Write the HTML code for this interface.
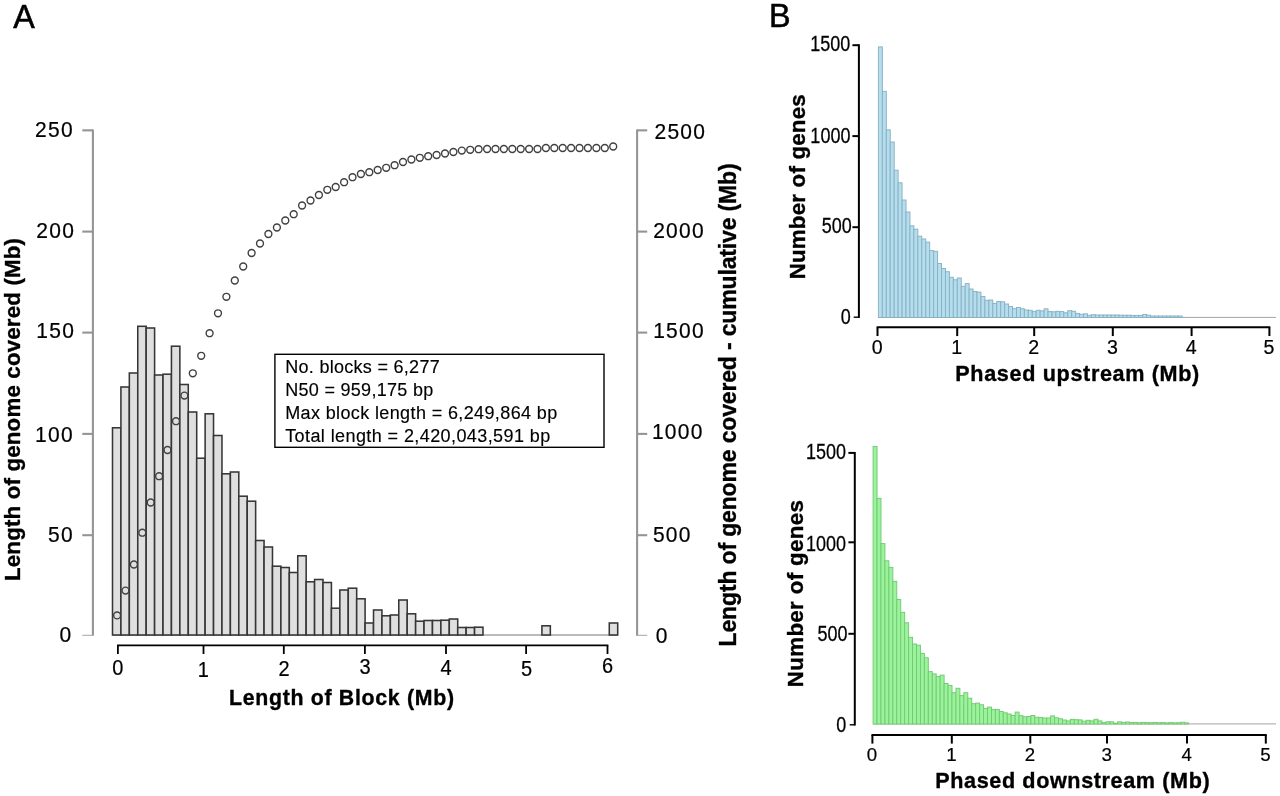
<!DOCTYPE html>
<html lang="en"><head><meta charset="utf-8"><title>Figure</title>
<style>html,body{margin:0;padding:0;background:#fff;overflow:hidden}svg{display:block;will-change:transform;filter:blur(.3px);font-family:'Liberation Sans', sans-serif;fill:#000}</style></head><body>
<svg width="1280" height="796" viewBox="0 0 1280 796">
<rect width="1280" height="796" fill="#fff"/>
<!-- Panel A -->
<text x="13.2" y="28.4" font-size="32.3" stroke="#000" stroke-width="0.55">A</text>
<g stroke="#959595" stroke-width="2.1" fill="none">
<path d="M92.9 129.5V635.8"/>
<path d="M82.3 130.35H92.9"/>
<path d="M82.3 231.6H92.9"/>
<path d="M82.3 332.6H92.9"/>
<path d="M82.3 433.9H92.9"/>
<path d="M82.3 535.2H92.9"/>
<path d="M82.3 635.3H92.9" stroke-width="1" stroke="#a5a5a5"/>
<path d="M637.1 129.5V635.8"/>
<path d="M637.1 130.35H647.2"/>
<path d="M637.1 231.6H647.2"/>
<path d="M637.1 332.6H647.2"/>
<path d="M637.1 433.9H647.2"/>
<path d="M637.1 535.2H647.2"/>
<path d="M637.1 635.3H647.2" stroke-width="1" stroke="#a5a5a5"/>
</g>
<text transform="translate(73.9 137.0) scale(1 1.09)" font-size="21" text-anchor="end" letter-spacing="1.3" stroke="#000" stroke-width="0.2">250</text>
<text transform="translate(75.2 238.2) scale(1 1.09)" font-size="21" text-anchor="end" letter-spacing="1.3" stroke="#000" stroke-width="0.2">200</text>
<text transform="translate(75.2 337.8) scale(1 1.09)" font-size="21" text-anchor="end" letter-spacing="1.3" stroke="#000" stroke-width="0.2">150</text>
<text transform="translate(73.9 442.0) scale(1 1.09)" font-size="21" text-anchor="end" letter-spacing="1.3" stroke="#000" stroke-width="0.2">100</text>
<text transform="translate(73.9 541.7) scale(1 1.09)" font-size="21" text-anchor="end" letter-spacing="1.3" stroke="#000" stroke-width="0.2">50</text>
<text transform="translate(72.5 641.7) scale(1 1.09)" font-size="21" text-anchor="end" letter-spacing="1.3" stroke="#000" stroke-width="0.2">0</text>
<text transform="translate(654.5 138.5) scale(1 1.09)" font-size="21" letter-spacing="1.25" stroke="#000" stroke-width="0.2">2500</text>
<text transform="translate(653.2 238.2) scale(1 1.09)" font-size="21" letter-spacing="1.25" stroke="#000" stroke-width="0.2">2000</text>
<text transform="translate(653.2 337.9) scale(1 1.09)" font-size="21" letter-spacing="1.25" stroke="#000" stroke-width="0.2">1500</text>
<text transform="translate(651.9 439.2) scale(1 1.09)" font-size="21" letter-spacing="1.25" stroke="#000" stroke-width="0.2">1000</text>
<text transform="translate(652.9 541.7) scale(1 1.09)" font-size="21" letter-spacing="1.25" stroke="#000" stroke-width="0.2">500</text>
<text transform="translate(655.8 642.9) scale(1 1.09)" font-size="21" letter-spacing="1.25" stroke="#000" stroke-width="0.2">0</text>
<g fill="#dfdfdf" stroke="#363636" stroke-width="1.55">
<path d="M112.5 635.0H617.7" stroke="#777" stroke-width="1"/>
<rect x="112.50" y="427.8" width="8.42" height="207.2"/>
<rect x="120.92" y="387" width="8.42" height="248.0"/>
<rect x="129.34" y="373" width="8.42" height="262.0"/>
<rect x="137.76" y="326.3" width="8.42" height="308.7"/>
<rect x="146.18" y="328" width="8.42" height="307.0"/>
<rect x="154.60" y="375" width="8.42" height="260.0"/>
<rect x="163.02" y="374.2" width="8.42" height="260.8"/>
<rect x="171.44" y="346.2" width="8.42" height="288.8"/>
<rect x="179.86" y="384.5" width="8.42" height="250.5"/>
<rect x="188.28" y="412" width="8.42" height="223.0"/>
<rect x="196.70" y="458.2" width="8.42" height="176.8"/>
<rect x="205.12" y="413.8" width="8.42" height="221.2"/>
<rect x="213.54" y="435.5" width="8.42" height="199.5"/>
<rect x="221.96" y="473.8" width="8.42" height="161.2"/>
<rect x="230.38" y="472" width="8.42" height="163.0"/>
<rect x="238.80" y="496.2" width="8.42" height="138.8"/>
<rect x="247.22" y="501.2" width="8.42" height="133.8"/>
<rect x="255.64" y="540.5" width="8.42" height="94.5"/>
<rect x="264.06" y="547" width="8.42" height="88.0"/>
<rect x="272.48" y="566.2" width="8.42" height="68.8"/>
<rect x="280.90" y="567.5" width="8.42" height="67.5"/>
<rect x="289.32" y="572.5" width="8.42" height="62.5"/>
<rect x="297.74" y="555.8" width="8.42" height="79.2"/>
<rect x="306.16" y="581.8" width="8.42" height="53.2"/>
<rect x="314.58" y="579.5" width="8.42" height="55.5"/>
<rect x="323.00" y="582.5" width="8.42" height="52.5"/>
<rect x="331.42" y="608.2" width="8.42" height="26.8"/>
<rect x="339.84" y="590" width="8.42" height="45.0"/>
<rect x="348.26" y="588.2" width="8.42" height="46.8"/>
<rect x="356.68" y="598.8" width="8.42" height="36.2"/>
<rect x="365.10" y="623" width="8.42" height="12.0"/>
<rect x="373.52" y="610" width="8.42" height="25.0"/>
<rect x="381.94" y="615.8" width="8.42" height="19.2"/>
<rect x="390.36" y="615" width="8.42" height="20.0"/>
<rect x="398.78" y="600" width="8.42" height="35.0"/>
<rect x="407.20" y="613.8" width="8.42" height="21.2"/>
<rect x="415.62" y="621.2" width="8.42" height="13.8"/>
<rect x="424.04" y="620.5" width="8.42" height="14.5"/>
<rect x="432.46" y="620.5" width="8.42" height="14.5"/>
<rect x="440.88" y="620.2" width="8.42" height="14.8"/>
<rect x="449.30" y="619" width="8.42" height="16.0"/>
<rect x="457.72" y="627.5" width="8.42" height="7.5"/>
<rect x="466.14" y="627.5" width="8.42" height="7.5"/>
<rect x="474.56" y="627.2" width="8.42" height="7.8"/>
<rect x="541.92" y="625.8" width="8.42" height="9.2"/>
<rect x="609.28" y="623" width="8.42" height="12.0"/>
</g>
<g fill="none" stroke="#404040" stroke-width="1.4">
<circle cx="117.1" cy="615.4" r="3.45"/>
<circle cx="125.5" cy="590.6" r="3.45"/>
<circle cx="133.9" cy="564.5" r="3.45"/>
<circle cx="142.3" cy="532.7" r="3.45"/>
<circle cx="150.7" cy="502.5" r="3.45"/>
<circle cx="159.1" cy="476.2" r="3.45"/>
<circle cx="167.5" cy="450" r="3.45"/>
<circle cx="176.0" cy="421.2" r="3.45"/>
<circle cx="184.4" cy="395.6" r="3.45"/>
<circle cx="192.8" cy="373.3" r="3.45"/>
<circle cx="201.2" cy="355.8" r="3.45"/>
<circle cx="209.6" cy="333.2" r="3.45"/>
<circle cx="218.0" cy="313.3" r="3.45"/>
<circle cx="226.4" cy="296.8" r="3.45"/>
<circle cx="234.8" cy="280.5" r="3.45"/>
<circle cx="243.2" cy="266.5" r="3.45"/>
<circle cx="251.6" cy="253" r="3.45"/>
<circle cx="260.0" cy="243.5" r="3.45"/>
<circle cx="268.4" cy="234" r="3.45"/>
<circle cx="276.9" cy="227.5" r="3.45"/>
<circle cx="285.3" cy="220.5" r="3.45"/>
<circle cx="293.7" cy="214.2" r="3.45"/>
<circle cx="302.1" cy="205.5" r="3.45"/>
<circle cx="310.5" cy="200.5" r="3.45"/>
<circle cx="318.9" cy="195" r="3.45"/>
<circle cx="327.3" cy="189.8" r="3.45"/>
<circle cx="335.7" cy="187" r="3.45"/>
<circle cx="344.1" cy="182.2" r="3.45"/>
<circle cx="352.5" cy="177.2" r="3.45"/>
<circle cx="360.9" cy="174" r="3.45"/>
<circle cx="369.3" cy="172.2" r="3.45"/>
<circle cx="377.7" cy="170" r="3.45"/>
<circle cx="386.2" cy="167.8" r="3.45"/>
<circle cx="394.6" cy="165.2" r="3.45"/>
<circle cx="403.0" cy="162" r="3.45"/>
<circle cx="411.4" cy="159.5" r="3.45"/>
<circle cx="419.8" cy="157.8" r="3.45"/>
<circle cx="428.2" cy="156.2" r="3.45"/>
<circle cx="436.6" cy="155" r="3.45"/>
<circle cx="445.0" cy="153.5" r="3.45"/>
<circle cx="453.4" cy="152" r="3.45"/>
<circle cx="461.8" cy="150.6" r="3.45"/>
<circle cx="470.2" cy="149.8" r="3.45"/>
<circle cx="478.6" cy="149.2" r="3.45"/>
<circle cx="487.1" cy="149.0" r="3.45"/>
<circle cx="495.5" cy="149.0" r="3.45"/>
<circle cx="503.9" cy="149.0" r="3.45"/>
<circle cx="512.3" cy="149.0" r="3.45"/>
<circle cx="520.7" cy="149.0" r="3.45"/>
<circle cx="529.1" cy="149.0" r="3.45"/>
<circle cx="537.5" cy="149.0" r="3.45"/>
<circle cx="545.9" cy="148.0" r="3.45"/>
<circle cx="554.3" cy="148.0" r="3.45"/>
<circle cx="562.7" cy="148.0" r="3.45"/>
<circle cx="571.1" cy="148.0" r="3.45"/>
<circle cx="579.5" cy="148.0" r="3.45"/>
<circle cx="587.9" cy="148.0" r="3.45"/>
<circle cx="596.4" cy="148.0" r="3.45"/>
<circle cx="604.8" cy="148.0" r="3.45"/>
<circle cx="613.2" cy="146.5" r="3.45"/>
</g>
<g stroke="#000" stroke-width="1.8" fill="none">
<path d="M117.05000000000001 645.3H608.35"/>
<path d="M117.9 645.3V654.0"/>
<path d="M203.5 645.3V654.0"/>
<path d="M283.8 645.3V654.0"/>
<path d="M364.9 645.3V654.0"/>
<path d="M446.0 645.3V654.0"/>
<path d="M526.1 645.3V654.0"/>
<path d="M607.5 645.3V654.0"/>
</g>
<text transform="translate(117.8 675.2) scale(1 1.09)" font-size="20" text-anchor="middle" stroke="#000" stroke-width="0.2">0</text>
<text transform="translate(203.3 676.7) scale(1 1.09)" font-size="20" text-anchor="middle" stroke="#000" stroke-width="0.2">1</text>
<text transform="translate(284.1 675.6) scale(1 1.09)" font-size="20" text-anchor="middle" stroke="#000" stroke-width="0.2">2</text>
<text transform="translate(365.0 673.9) scale(1 1.09)" font-size="20" text-anchor="middle" stroke="#000" stroke-width="0.2">3</text>
<text transform="translate(446.0 675.2) scale(1 1.09)" font-size="20" text-anchor="middle" stroke="#000" stroke-width="0.2">4</text>
<text transform="translate(526.5 676.0) scale(1 1.09)" font-size="20" text-anchor="middle" stroke="#000" stroke-width="0.2">5</text>
<text transform="translate(607.5 673.4) scale(1 1.09)" font-size="20" text-anchor="middle" stroke="#000" stroke-width="0.2">6</text>
<text x="229.0" y="705.2" font-size="21.3" font-weight="bold" stroke="#000" stroke-width="0.35" textLength="225" lengthAdjust="spacing">Length of Block (Mb)</text>
<text transform="translate(20.1 581.0) rotate(-90)" font-size="22.3" font-weight="bold" stroke="#000" stroke-width="0.35" textLength="343" lengthAdjust="spacing">Length of genome covered (Mb)</text>
<text transform="translate(735.9 646.4) rotate(-90)" font-size="23" font-weight="bold" stroke="#000" stroke-width="0.35" textLength="483" lengthAdjust="spacing">Length of genome covered - cumulative (Mb)</text>
<rect x="274.9" y="354.3" width="329.1" height="93" fill="#fff" stroke="#000" stroke-width="1.4"/>
<text x="285.2" y="373.3" font-size="18" textLength="154.5" lengthAdjust="spacing" stroke="#000" stroke-width="0.15">No. blocks = 6,277</text>
<text x="285.2" y="395.6" font-size="18" textLength="148" lengthAdjust="spacing" stroke="#000" stroke-width="0.15">N50 = 959,175 bp</text>
<text x="285.2" y="419.0" font-size="18" textLength="272" lengthAdjust="spacing" stroke="#000" stroke-width="0.15">Max block length = 6,249,864 bp</text>
<text x="285.2" y="442.0" font-size="18" textLength="265" lengthAdjust="spacing" stroke="#000" stroke-width="0.15">Total length = 2,420,043,591 bp</text>
<!-- Panel B -->
<text x="769.0" y="26.8" font-size="32.3" stroke="#000" stroke-width="0.55">B</text>
<g fill="#b4ddee" stroke="#8ab1c3" stroke-width="0.95">
<path d="M878.4 317.4H1276" stroke="#9a9a9a" stroke-width="0.9"/>
<rect x="878.40" y="46.9" width="3.945" height="270.6"/>
<rect x="882.35" y="91.3" width="3.945" height="226.2"/>
<rect x="886.29" y="129.8" width="3.945" height="187.7"/>
<rect x="890.24" y="142" width="3.945" height="175.5"/>
<rect x="894.18" y="170.2" width="3.945" height="147.3"/>
<rect x="898.12" y="182.8" width="3.945" height="134.7"/>
<rect x="902.07" y="200" width="3.945" height="117.5"/>
<rect x="906.01" y="212" width="3.945" height="105.5"/>
<rect x="909.96" y="225.8" width="3.945" height="91.7"/>
<rect x="913.90" y="229.2" width="3.945" height="88.3"/>
<rect x="917.85" y="236.2" width="3.945" height="81.3"/>
<rect x="921.79" y="239" width="3.945" height="78.5"/>
<rect x="925.74" y="242.1" width="3.945" height="75.4"/>
<rect x="929.68" y="250.6" width="3.945" height="66.9"/>
<rect x="933.63" y="251.3" width="3.945" height="66.2"/>
<rect x="937.57" y="263.5" width="3.945" height="54.0"/>
<rect x="941.52" y="268.5" width="3.945" height="49.0"/>
<rect x="945.46" y="271.7" width="3.945" height="45.8"/>
<rect x="949.41" y="277.3" width="3.945" height="40.2"/>
<rect x="953.36" y="279.8" width="3.945" height="37.7"/>
<rect x="957.30" y="278" width="3.945" height="39.5"/>
<rect x="961.25" y="286.3" width="3.945" height="31.2"/>
<rect x="965.19" y="283.6" width="3.945" height="33.9"/>
<rect x="969.13" y="289" width="3.945" height="28.5"/>
<rect x="973.08" y="291.5" width="3.945" height="26.0"/>
<rect x="977.02" y="292.1" width="3.945" height="25.4"/>
<rect x="980.97" y="296.5" width="3.945" height="21.0"/>
<rect x="984.91" y="300.3" width="3.945" height="17.2"/>
<rect x="988.86" y="300" width="3.945" height="17.5"/>
<rect x="992.80" y="303.4" width="3.945" height="14.1"/>
<rect x="996.75" y="301.5" width="3.945" height="16.0"/>
<rect x="1000.69" y="301.8" width="3.945" height="15.7"/>
<rect x="1004.64" y="304" width="3.945" height="13.5"/>
<rect x="1008.59" y="306.5" width="3.945" height="11.0"/>
<rect x="1012.53" y="308.7" width="3.945" height="8.8"/>
<rect x="1016.47" y="307.5" width="3.945" height="10.0"/>
<rect x="1020.42" y="308.8" width="3.945" height="8.7"/>
<rect x="1024.37" y="310" width="3.945" height="7.5"/>
<rect x="1028.31" y="310.3" width="3.945" height="7.2"/>
<rect x="1032.25" y="311.6" width="3.945" height="5.9"/>
<rect x="1036.20" y="310.3" width="3.945" height="7.2"/>
<rect x="1040.14" y="310.9" width="3.945" height="6.6"/>
<rect x="1044.09" y="308.8" width="3.945" height="8.7"/>
<rect x="1048.03" y="311.6" width="3.945" height="5.9"/>
<rect x="1051.98" y="311.8" width="3.945" height="5.7"/>
<rect x="1055.92" y="311.3" width="3.945" height="6.2"/>
<rect x="1059.87" y="311.6" width="3.945" height="5.9"/>
<rect x="1063.82" y="312.8" width="3.945" height="4.7"/>
<rect x="1067.76" y="310.7" width="3.945" height="6.8"/>
<rect x="1071.70" y="311.3" width="3.945" height="6.2"/>
<rect x="1075.65" y="313.4" width="3.945" height="4.1"/>
<rect x="1079.60" y="314.3" width="3.945" height="3.2"/>
<rect x="1083.54" y="313.8" width="3.945" height="3.7"/>
<rect x="1087.48" y="315.3" width="3.945" height="2.2"/>
<rect x="1091.43" y="314.7" width="3.945" height="2.8"/>
<rect x="1095.38" y="315.0" width="3.945" height="2.5"/>
<rect x="1099.32" y="315.0" width="3.945" height="2.5"/>
<rect x="1103.26" y="315.0" width="3.945" height="2.5"/>
<rect x="1107.21" y="315.0" width="3.945" height="2.5"/>
<rect x="1111.15" y="315.0" width="3.945" height="2.5"/>
<rect x="1115.10" y="315.0" width="3.945" height="2.5"/>
<rect x="1119.05" y="315.2" width="3.945" height="2.3"/>
<rect x="1122.99" y="315.2" width="3.945" height="2.3"/>
<rect x="1126.93" y="315.2" width="3.945" height="2.3"/>
<rect x="1130.88" y="315.4" width="3.945" height="2.1"/>
<rect x="1134.83" y="315.4" width="3.945" height="2.1"/>
<rect x="1138.77" y="315.4" width="3.945" height="2.1"/>
<rect x="1142.71" y="314.4" width="3.945" height="3.1"/>
<rect x="1146.66" y="315.2" width="3.945" height="2.3"/>
<rect x="1150.61" y="316.0" width="3.945" height="1.5"/>
<rect x="1154.55" y="316.0" width="3.945" height="1.5"/>
<rect x="1158.49" y="316.0" width="3.945" height="1.5"/>
<rect x="1162.44" y="316.0" width="3.945" height="1.5"/>
<rect x="1166.38" y="316.0" width="3.945" height="1.5"/>
<rect x="1170.33" y="316.0" width="3.945" height="1.5"/>
<rect x="1174.28" y="316.0" width="3.945" height="1.5"/>
<rect x="1178.22" y="316.0" width="3.945" height="1.5"/>
</g>
<g stroke="#000" stroke-width="2" fill="none">
<path d="M858.9 44.300000000000004V317.9"/>
<path d="M852.4 45.2H858.9"/>
<path d="M852.4 136.1H858.9"/>
<path d="M852.4 227.2H858.9"/>
<path d="M853.6999999999999 317.2H858.9" stroke-width="1.4"/>
<path d="M876.6 327.35H1270.3000000000002"/>
<path d="M877.5 327.35V336.05"/>
<path d="M957.2 327.35V336.05"/>
<path d="M1034.2 327.35V336.05"/>
<path d="M1112.8 327.35V336.05"/>
<path d="M1191.6 327.35V336.05"/>
<path d="M1269.4 327.35V336.05"/>
</g>
<text transform="translate(850.3 51.2) scale(0.9 1.06)" font-size="20" text-anchor="end" stroke="#000" stroke-width="0.25">1500</text>
<text transform="translate(850.4 142.6) scale(0.9 1.06)" font-size="20" text-anchor="end" stroke="#000" stroke-width="0.25">1000</text>
<text transform="translate(851.7 232.6) scale(0.9 1.06)" font-size="20" text-anchor="end" stroke="#000" stroke-width="0.25">500</text>
<text transform="translate(850.7 323.6) scale(0.9 1.06)" font-size="20" text-anchor="end" stroke="#000" stroke-width="0.25">0</text>
<text x="877.1" y="353.6" font-size="19.6" text-anchor="middle" stroke="#000" stroke-width="0.2">0</text>
<text x="956.8" y="353.6" font-size="19.6" text-anchor="middle" stroke="#000" stroke-width="0.2">1</text>
<text x="1033.8" y="353.6" font-size="19.6" text-anchor="middle" stroke="#000" stroke-width="0.2">2</text>
<text x="1112.4" y="353.6" font-size="19.6" text-anchor="middle" stroke="#000" stroke-width="0.2">3</text>
<text x="1191.2" y="353.6" font-size="19.6" text-anchor="middle" stroke="#000" stroke-width="0.2">4</text>
<text x="1269.0" y="353.6" font-size="19.6" text-anchor="middle" stroke="#000" stroke-width="0.2">5</text>
<text x="955.3" y="381.0" font-size="21.6" font-weight="bold" stroke="#000" stroke-width="0.35" textLength="244.0" lengthAdjust="spacing">Phased upstream (Mb)</text>
<text transform="translate(805.3 279.3) rotate(-90)" font-size="22.3" font-weight="bold" stroke="#000" stroke-width="0.35" textLength="185" lengthAdjust="spacing">Number of genes</text>
<g fill="#9af59a" stroke="#74c877" stroke-width="0.95">
<path d="M873.1 723.9H1276" stroke="#9a9a9a" stroke-width="0.9"/>
<rect x="873.10" y="446.5" width="3.945" height="277.5"/>
<rect x="877.05" y="498.4" width="3.945" height="225.6"/>
<rect x="880.99" y="543.6" width="3.945" height="180.4"/>
<rect x="884.94" y="560.8" width="3.945" height="163.2"/>
<rect x="888.88" y="567.4" width="3.945" height="156.6"/>
<rect x="892.83" y="581.3" width="3.945" height="142.7"/>
<rect x="896.77" y="599.5" width="3.945" height="124.5"/>
<rect x="900.72" y="612.3" width="3.945" height="111.7"/>
<rect x="904.66" y="622.8" width="3.945" height="101.2"/>
<rect x="908.61" y="637.3" width="3.945" height="86.7"/>
<rect x="912.55" y="644" width="3.945" height="80.0"/>
<rect x="916.50" y="645.2" width="3.945" height="78.8"/>
<rect x="920.44" y="653.4" width="3.945" height="70.6"/>
<rect x="924.38" y="657.8" width="3.945" height="66.2"/>
<rect x="928.33" y="671.6" width="3.945" height="52.4"/>
<rect x="932.27" y="673.9" width="3.945" height="50.1"/>
<rect x="936.22" y="676.6" width="3.945" height="47.4"/>
<rect x="940.16" y="675.1" width="3.945" height="48.9"/>
<rect x="944.11" y="683.5" width="3.945" height="40.5"/>
<rect x="948.06" y="685.4" width="3.945" height="38.6"/>
<rect x="952.00" y="692.7" width="3.945" height="31.3"/>
<rect x="955.95" y="688.3" width="3.945" height="35.7"/>
<rect x="959.89" y="695.6" width="3.945" height="28.4"/>
<rect x="963.84" y="692.7" width="3.945" height="31.3"/>
<rect x="967.78" y="698.2" width="3.945" height="25.8"/>
<rect x="971.73" y="703.7" width="3.945" height="20.3"/>
<rect x="975.67" y="703.1" width="3.945" height="20.9"/>
<rect x="979.62" y="704.8" width="3.945" height="19.2"/>
<rect x="983.56" y="708.4" width="3.945" height="15.6"/>
<rect x="987.50" y="707.1" width="3.945" height="16.9"/>
<rect x="991.45" y="709.6" width="3.945" height="14.4"/>
<rect x="995.39" y="709.4" width="3.945" height="14.6"/>
<rect x="999.34" y="711.5" width="3.945" height="12.5"/>
<rect x="1003.29" y="712.8" width="3.945" height="11.2"/>
<rect x="1007.23" y="714" width="3.945" height="10.0"/>
<rect x="1011.17" y="715.5" width="3.945" height="8.5"/>
<rect x="1015.12" y="712.1" width="3.945" height="11.9"/>
<rect x="1019.07" y="715.7" width="3.945" height="8.3"/>
<rect x="1023.01" y="716.8" width="3.945" height="7.2"/>
<rect x="1026.95" y="716.5" width="3.945" height="7.5"/>
<rect x="1030.90" y="715.5" width="3.945" height="8.5"/>
<rect x="1034.85" y="717.2" width="3.945" height="6.8"/>
<rect x="1038.79" y="717.5" width="3.945" height="6.5"/>
<rect x="1042.74" y="718" width="3.945" height="6.0"/>
<rect x="1046.68" y="718" width="3.945" height="6.0"/>
<rect x="1050.62" y="715.9" width="3.945" height="8.1"/>
<rect x="1054.57" y="717.8" width="3.945" height="6.2"/>
<rect x="1058.52" y="718.8" width="3.945" height="5.2"/>
<rect x="1062.46" y="720" width="3.945" height="4.0"/>
<rect x="1066.40" y="720.9" width="3.945" height="3.1"/>
<rect x="1070.35" y="719.3" width="3.945" height="4.7"/>
<rect x="1074.30" y="719.7" width="3.945" height="4.3"/>
<rect x="1078.24" y="719.9" width="3.945" height="4.1"/>
<rect x="1082.18" y="721.2" width="3.945" height="2.8"/>
<rect x="1086.13" y="720.3" width="3.945" height="3.7"/>
<rect x="1090.08" y="720.9" width="3.945" height="3.1"/>
<rect x="1094.02" y="719.3" width="3.945" height="4.7"/>
<rect x="1097.96" y="720.9" width="3.945" height="3.1"/>
<rect x="1101.91" y="722.6" width="3.945" height="1.4"/>
<rect x="1105.86" y="721.8" width="3.945" height="2.2"/>
<rect x="1109.80" y="721.8" width="3.945" height="2.2"/>
<rect x="1113.74" y="723.2" width="3.945" height="0.8"/>
<rect x="1117.69" y="721.8" width="3.945" height="2.2"/>
<rect x="1121.63" y="722.4" width="3.945" height="1.6"/>
<rect x="1125.58" y="722.0" width="3.945" height="2.0"/>
<rect x="1129.53" y="722.6" width="3.945" height="1.4"/>
<rect x="1133.47" y="722.4" width="3.945" height="1.6"/>
<rect x="1137.41" y="722.8" width="3.945" height="1.2"/>
<rect x="1141.36" y="722.4" width="3.945" height="1.6"/>
<rect x="1145.31" y="722.6" width="3.945" height="1.4"/>
<rect x="1149.25" y="722.8" width="3.945" height="1.2"/>
<rect x="1153.19" y="722.4" width="3.945" height="1.6"/>
<rect x="1157.14" y="722.8" width="3.945" height="1.2"/>
<rect x="1161.09" y="722.6" width="3.945" height="1.4"/>
<rect x="1165.03" y="722.9" width="3.945" height="1.1"/>
<rect x="1168.97" y="722.6" width="3.945" height="1.4"/>
<rect x="1172.92" y="722.9" width="3.945" height="1.1"/>
<rect x="1176.87" y="722.7" width="3.945" height="1.3"/>
<rect x="1180.81" y="722.2" width="3.945" height="1.8"/>
<rect x="1184.76" y="722.9" width="3.945" height="1.1"/>
</g>
<g stroke="#000" stroke-width="2" fill="none">
<path d="M854.8 452.0V725.5"/>
<path d="M848.4 452.9H854.8"/>
<path d="M848.4 542.3H854.8"/>
<path d="M848.4 633.8H854.8"/>
<path d="M849.6999999999999 724.8H854.8" stroke-width="1.4"/>
<path d="M871.5 734.9H1266.7"/>
<path d="M872.4 734.9V743.6"/>
<path d="M951.8 734.9V743.6"/>
<path d="M1030.3 734.9V743.6"/>
<path d="M1107.0 734.9V743.6"/>
<path d="M1187.0 734.9V743.6"/>
<path d="M1265.8 734.9V743.6"/>
</g>
<text transform="translate(846.0 459.1) scale(0.9 1.06)" font-size="20" text-anchor="end" stroke="#000" stroke-width="0.25">1500</text>
<text transform="translate(846.0 550.5) scale(0.9 1.06)" font-size="20" text-anchor="end" stroke="#000" stroke-width="0.25">1000</text>
<text transform="translate(847.6 640.5) scale(0.9 1.06)" font-size="20" text-anchor="end" stroke="#000" stroke-width="0.25">500</text>
<text transform="translate(846.3 731.6) scale(0.9 1.06)" font-size="20" text-anchor="end" stroke="#000" stroke-width="0.25">0</text>
<text x="872.0" y="761.0" font-size="18.7" text-anchor="middle" stroke="#000" stroke-width="0.2">0</text>
<text x="951.4" y="761.0" font-size="18.7" text-anchor="middle" stroke="#000" stroke-width="0.2">1</text>
<text x="1029.9" y="761.0" font-size="18.7" text-anchor="middle" stroke="#000" stroke-width="0.2">2</text>
<text x="1106.6" y="761.0" font-size="18.7" text-anchor="middle" stroke="#000" stroke-width="0.2">3</text>
<text x="1186.6" y="761.0" font-size="18.7" text-anchor="middle" stroke="#000" stroke-width="0.2">4</text>
<text x="1265.4" y="761.0" font-size="18.7" text-anchor="middle" stroke="#000" stroke-width="0.2">5</text>
<text x="935.2" y="788.0" font-size="21.6" font-weight="bold" stroke="#000" stroke-width="0.35" textLength="274.5" lengthAdjust="spacing">Phased downstream (Mb)</text>
<text transform="translate(803.0 687.2) rotate(-90)" font-size="22.3" font-weight="bold" stroke="#000" stroke-width="0.35" textLength="187" lengthAdjust="spacing">Number of genes</text>
</svg>
</body></html>
